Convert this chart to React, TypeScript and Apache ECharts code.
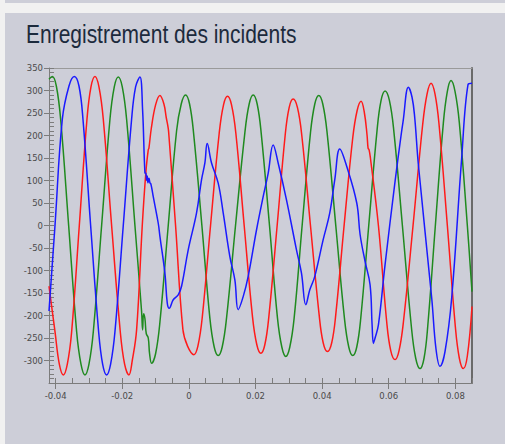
import React, { useEffect, useRef } from "react";
import * as echarts from "echarts";

const chartTitle = "Enregistrement des incidents";

const xLabelValues = [-0.04, -0.02, 0, 0.02, 0.04, 0.06, 0.08];
const xMinorValues = [
  -0.04, -0.035, -0.03, -0.025, -0.02, -0.015, -0.01, -0.005, 0, 0.005, 0.01, 0.015, 0.02,
  0.025, 0.03, 0.035, 0.04, 0.045, 0.05, 0.055, 0.06, 0.065, 0.07, 0.075, 0.08, 0.085,
];

const greenPhase: [number, number][] = [
  [-0.042, 325], [-0.041, 331], [-0.0398, 310], [-0.0385, 236], [-0.0361, 0],
  [-0.0337, -236], [-0.0324, -308], [-0.0312, -332], [-0.03, -308], [-0.0287, -236],
  [-0.0262, 0], [-0.0237, 236], [-0.0224, 308], [-0.0212, 330], [-0.02, 308],
  [-0.0187, 236], [-0.0162, 0], [-0.0142, -191], [-0.0139, -232], [-0.0136, -196],
  [-0.0132, -207], [-0.0128, -240], [-0.0122, -250], [-0.0118, -285], [-0.0112, -306],
  [-0.01, -285], [-0.0087, -215], [-0.0062, 0], [-0.0037, 210], [-0.0023, 270],
  [-0.001, 290], [0.0002, 270], [0.0014, 206], [0.0039, 0], [0.0063, -206],
  [0.0076, -270], [0.0088, -289], [0.01, -270], [0.0113, -206], [0.014, 0],
  [0.0168, 206], [0.0181, 270], [0.0193, 290], [0.0205, 270], [0.0217, 206],
  [0.0242, 0], [0.0266, -206], [0.0279, -270], [0.0291, -291], [0.0303, -270],
  [0.0316, -206], [0.034, 0], [0.0365, 206], [0.0378, 270], [0.039, 289],
  [0.0402, 270], [0.0415, 206], [0.0441, 0], [0.0467, -206], [0.048, -270],
  [0.0492, -289], [0.0504, -270], [0.0516, -206], [0.054, 0], [0.0565, 212],
  [0.0577, 278], [0.0589, 299], [0.0602, 278], [0.0615, 212], [0.0641, 0],
  [0.0668, -225], [0.0681, -295], [0.0694, -318], [0.0706, -295], [0.0717, -225],
  [0.074, 0], [0.0764, 228], [0.0776, 298], [0.0787, 322], [0.0799, 298],
  [0.0812, 228], [0.0836, 0], [0.085, -147],
];

const redPhase: [number, number][] = [
  [-0.042, -135], [-0.0402, -236], [-0.0389, -308], [-0.0377, -332], [-0.0365, -308],
  [-0.0352, -236], [-0.0329, 0], [-0.0306, 236], [-0.0294, 308], [-0.0282, 331],
  [-0.027, 308], [-0.0257, 236], [-0.0232, 0], [-0.0206, -236], [-0.0193, -308],
  [-0.018, -332], [-0.017, -300], [-0.0157, -232], [-0.014, 0], [-0.0129, 120],
  [-0.0122, 168], [-0.012, 172], [-0.0113, 215], [-0.01, 268], [-0.0087, 289],
  [-0.0075, 270], [-0.0068, 240], [-0.0062, 216], [-0.006, 200], [-0.004, 0],
  [-0.0018, -231], [-0.0004, -268], [0.0015, -287], [0.0027, -268], [0.004, -205],
  [0.0065, 0], [0.0091, 205], [0.0104, 268], [0.0116, 287], [0.0128, 268],
  [0.0141, 205], [0.0166, 0], [0.0191, -203], [0.0204, -265], [0.0216, -284],
  [0.0228, -265], [0.024, -203], [0.0265, 0], [0.0289, 200], [0.0301, 262],
  [0.0313, 281], [0.0326, 262], [0.0339, 200], [0.0365, 0], [0.0391, -198],
  [0.0403, -260], [0.0416, -280], [0.0429, -260], [0.0441, -198], [0.0466, 0],
  [0.0492, 195], [0.0505, 255], [0.0517, 276], [0.0527, 250], [0.0535, 200],
  [0.0538, 172], [0.0541, 168], [0.0545, 150], [0.0569, 0], [0.0594, -215],
  [0.0606, -278], [0.0619, -298], [0.0631, -278], [0.0644, -215], [0.0673, 0],
  [0.0702, 225], [0.0715, 292], [0.0727, 316], [0.0739, 292], [0.0751, 225],
  [0.0776, 0], [0.08, -225], [0.0812, -295], [0.0824, -318], [0.0836, -290],
  [0.085, -180],
];

const bluePhase: [number, number][] = [
  [-0.042, -190], [-0.0402, 0], [-0.038, 236], [-0.036, 310], [-0.0344, 331],
  [-0.033, 310], [-0.0318, 236], [-0.0295, 0], [-0.0271, -236], [-0.0259, -308],
  [-0.0247, -332], [-0.0235, -308], [-0.0222, -236], [-0.0197, 0], [-0.0172, 236],
  [-0.016, 308], [-0.0147, 330], [-0.0139, 257], [-0.0132, 117], [-0.0129, 116],
  [-0.0127, 100], [-0.0125, 110], [-0.0123, 95], [-0.012, 105], [-0.0117, 95],
  [-0.0114, 92], [-0.0107, 64], [-0.0092, 5], [-0.0087, -24], [-0.0072, -106],
  [-0.0065, -172], [-0.0059, -184], [-0.0047, -165], [-0.0032, -154], [-0.0022, -135],
  [-0.0002, -54], [0.0023, 28], [0.0038, 102], [0.0048, 139], [0.0055, 182],
  [0.0068, 139], [0.0088, 94], [0.0103, 28], [0.0123, -69], [0.0138, -121],
  [0.0148, -187], [0.0163, -158], [0.0178, -113], [0.0203, -10], [0.0223, 64],
  [0.0238, 116], [0.0253, 179], [0.0268, 139], [0.0293, 57], [0.0323, -54],
  [0.0338, -106], [0.0351, -176], [0.0363, -143], [0.0378, -113], [0.0403, -32],
  [0.0423, 28], [0.0438, 102], [0.0453, 170], [0.0474, 131], [0.0504, 50],
  [0.0514, -20], [0.0529, -80], [0.0544, -132], [0.055, -220], [0.0554, -262],
  [0.0559, -250], [0.0569, -221], [0.0589, -87], [0.0619, 98], [0.0637, 200],
  [0.0643, 231], [0.0659, 307], [0.067, 285], [0.0678, 240], [0.0689, 135],
  [0.0729, -161], [0.0742, -275], [0.0754, -313], [0.0769, -280], [0.0789, -161],
  [0.0819, 150], [0.0838, 313], [0.085, 316],
];

const labelFont = { fontFamily: "DejaVu Sans", fontSize: 8.5, color: "#4a4a4a" };

export default function App() {
  const ref = useRef<HTMLDivElement>(null);
  useEffect(() => {
    document.body.style.margin = "0";
    const chart = echarts.init(ref.current as HTMLDivElement, null, { renderer: "svg" });
    const xMin = -0.042;
    const xMax = 0.085;
    chart.setOption({
      animation: false,
      backgroundColor: "#cdced8",
      graphic: [
        { type: "rect", shape: { x: 0, y: 0, width: 5, height: 444 }, style: { fill: "#f1f1f1" }, silent: true },
        { type: "rect", shape: { x: 0, y: 3, width: 505, height: 10 }, style: { fill: "#f1f1f1" }, silent: true },
        {
          type: "text",
          x: 26,
          y: 21,
          scaleX: 0.82,
          style: {
            x: 0,
            y: 0,
            text: chartTitle,
            font: "25.6px 'Liberation Sans'",
            fill: "#1c2a3c",
            verticalAlign: "top",
          },
          silent: true,
        },
      ],
      grid: { left: 49, right: 33, top: 68, bottom: 61, containLabel: false },
      xAxis: [
        {
          type: "value",
          min: xMin,
          max: xMax,
          position: "bottom",
          axisLine: { show: true, onZero: false, lineStyle: { color: "#7c7c7c", width: 1 } },
          axisTick: { show: true, inside: false, length: 6, customValues: xLabelValues, lineStyle: { color: "#7c7c7c" } },
          axisLabel: {
            show: true,
            customValues: xLabelValues,
            margin: 8,
            ...labelFont,
            formatter: (v: number) => (Math.abs(v) < 1e-9 ? "0" : String(Number(v.toFixed(2)))),
          },
          splitLine: { show: false },
        },
        {
          type: "value",
          min: xMin,
          max: xMax,
          position: "bottom",
          axisLine: { show: false, onZero: false },
          axisTick: { show: true, inside: true, length: 5, customValues: xMinorValues, lineStyle: { color: "#7c7c7c" } },
          axisLabel: { show: false },
          splitLine: { show: false },
        },
        {
          type: "value",
          min: xMin,
          max: xMax,
          position: "top",
          axisLine: { show: true, onZero: false, lineStyle: { color: "#9a9a9a", width: 1 } },
          axisTick: { show: false },
          axisLabel: { show: false },
          splitLine: { show: false },
        },
      ],
      yAxis: [
        {
          type: "value",
          min: -350,
          max: 350,
          interval: 50,
          position: "left",
          axisLine: { show: true, onZero: false, lineStyle: { color: "#7c7c7c", width: 1 } },
          axisTick: { show: true, inside: false, length: 5, lineStyle: { color: "#7c7c7c" } },
          axisLabel: { show: true, margin: 6, showMinLabel: false, ...labelFont },
          splitLine: { show: false },
        },
        {
          type: "value",
          min: -350,
          max: 350,
          interval: 10,
          position: "left",
          axisLine: { show: false, onZero: false },
          axisTick: { show: true, inside: true, length: 5, lineStyle: { color: "#7c7c7c" } },
          axisLabel: { show: false },
          splitLine: { show: false },
        },
        {
          type: "value",
          min: -350,
          max: 350,
          position: "right",
          axisLine: { show: true, onZero: false, lineStyle: { color: "#6a6a6a", width: 2 } },
          axisTick: { show: false },
          axisLabel: { show: false },
          splitLine: { show: false },
        },
      ],
      series: [
        {
          name: "Phase 2",
          type: "line",
          data: greenPhase,
          xAxisIndex: 0,
          yAxisIndex: 0,
          showSymbol: false,
          smooth: 0.4,
          lineStyle: { color: "#1f8a1f", width: 1.5 },
          itemStyle: { color: "#1f8a1f" },
        },
        {
          name: "Phase 1",
          type: "line",
          data: redPhase,
          xAxisIndex: 0,
          yAxisIndex: 0,
          showSymbol: false,
          smooth: 0.4,
          lineStyle: { color: "#ff1a1a", width: 1.5 },
          itemStyle: { color: "#ff1a1a" },
        },
        {
          name: "Phase 3",
          type: "line",
          data: bluePhase,
          xAxisIndex: 0,
          yAxisIndex: 0,
          showSymbol: false,
          smooth: 0.4,
          lineStyle: { color: "#1a1aff", width: 1.5 },
          itemStyle: { color: "#1a1aff" },
        },
      ],
    });
    return () => chart.dispose();
  }, []);
  return <div ref={ref} style={{ width: 505, height: 444 }} />;
}
